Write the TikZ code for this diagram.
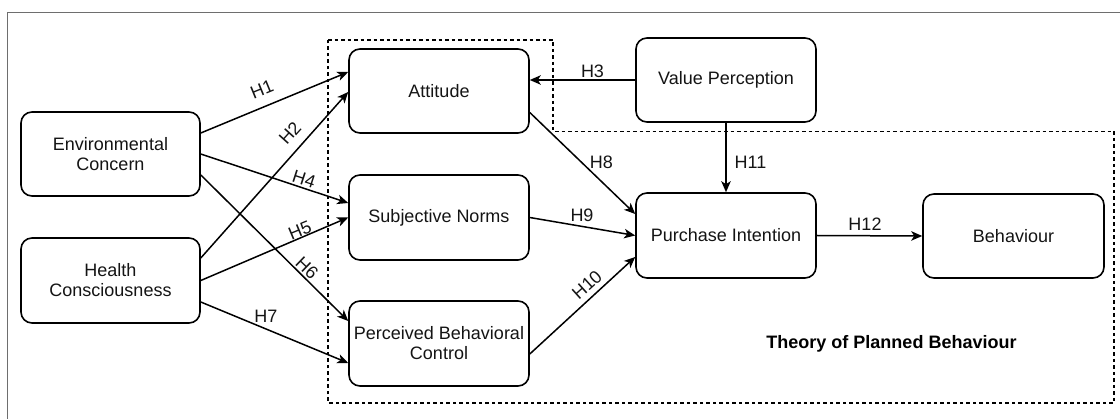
\documentclass[tikz,border=0pt]{standalone}
\usepackage{fontspec}
\setmainfont{Liberation Sans}
\usetikzlibrary{arrows.meta,calc}
\definecolor{framegray}{RGB}{110,110,110}
\definecolor{txt}{RGB}{20,20,20}
\begin{document}
\begin{tikzpicture}[x=1pt,y=-1pt,
  box/.style={draw=black,line width=1.6pt,rounded corners=11pt,minimum width=180pt,minimum height=85pt,inner sep=0pt,align=center,text=txt,font=\fontsize{18}{20}\selectfont},
  arr/.style={line width=1.5pt,-{Stealth[length=11pt,width=9.5pt,inset=3pt]}},
  lab/.style={inner sep=0pt,text=txt,font=\fontsize{18}{20}\selectfont},
  region/.style={line width=1.4pt,dash pattern=on 3.5pt off 3pt}]
\useasboundingbox (0,0) rectangle (1120,419);
% outer frame
\draw[framegray,line width=1.5pt] (7.5,419) -- (7.5,12.5) -- (1120,12.5);
% Theory of Planned Behaviour region
\draw[region] (328,40) -- (553,40) -- (553,131.5) -- (1114,131.5) -- (1114,403) -- (328,403) -- cycle;
% nodes
\node[box,minimum width=179pt,minimum height=84pt] (EC) at (110.5,154) {Environmental\\Concern};
\node[box,minimum width=179pt] (HC) at (110.5,280.5) {Health\\Consciousness};
\node[box,minimum height=84pt] (ATT) at (439,91) {Attitude};
\node[box] (SN) at (439,217.5) {Subjective Norms};
\node[box] (PBC) at (439,343.5) {Perceived Behavioral\\Control};
\node[box,minimum height=84pt] (VP) at (726,80) {Value Perception};
\node[box] (PI) at (726,235.5) {Purchase Intention};
\node[box,minimum width=181pt,minimum height=84pt] (BEH) at (1013.5,236) {Behaviour};
% connectors
\draw[arr] ($(EC.east)+(0,-21)$) -- ($(ATT.west)+(0,-19)$);
\draw[arr] ($(HC.east)+(0,-22.5)$) -- ($(ATT.west)+(0,1)$);
\draw[arr] (EC.east) -- ($(SN.west)+(0,-14.5)$);
\draw[arr] (HC.east) -- (SN.west);
\draw[arr] ($(EC.east)+(0,21)$) -- ($(PBC.west)+(0,-22.5)$);
\draw[arr] ($(HC.east)+(0,21.5)$) -- ($(PBC.west)+(0,19.5)$);
\draw[arr] (VP.west) -- ($(ATT.east)+(0,-11)$);
\draw[arr] ($(ATT.east)+(0,21.5)$) -- ($(PI.west)+(0,-21.5)$);
\draw[arr] (SN.east) -- (PI.west);
\draw[arr] ($(PBC.east)+(0,10.5)$) -- ($(PI.west)+(0,21.5)$);
\draw[arr] (VP.south) -- (PI.north);
\draw[arr] (PI.east) -- (BEH.west);
% labels
\node[lab,rotate=22.3] (l1) at (262,89) {H1};
\node[lab,rotate=48] (l2) at (290,133) {H2};
\node[lab] (l3) at (592.5,71.5) {H3};
\node[lab,rotate=-18] (l4) at (304,179.5) {H4};
\node[lab,rotate=22.6] (l5) at (300,230.5) {H5};
\node[lab,rotate=-44] (l6) at (307,268.5) {H6};
\node[lab] (l7) at (266,316.5) {H7};
\node[lab] (l8) at (601.5,162) {H8};
\node[lab] (l9) at (582,215.5) {H9};
\node[lab,rotate=42] (l10) at (587,285) {H10};
\node[lab] (l11) at (750.5,162) {H11};
\node[lab] (l12) at (865,224) {H12};
\node[lab,font=\fontsize{18}{20}\selectfont\bfseries,text=black] (tpb) at (891.5,343.5) {Theory of Planned Behaviour};
\end{tikzpicture}
\end{document}
